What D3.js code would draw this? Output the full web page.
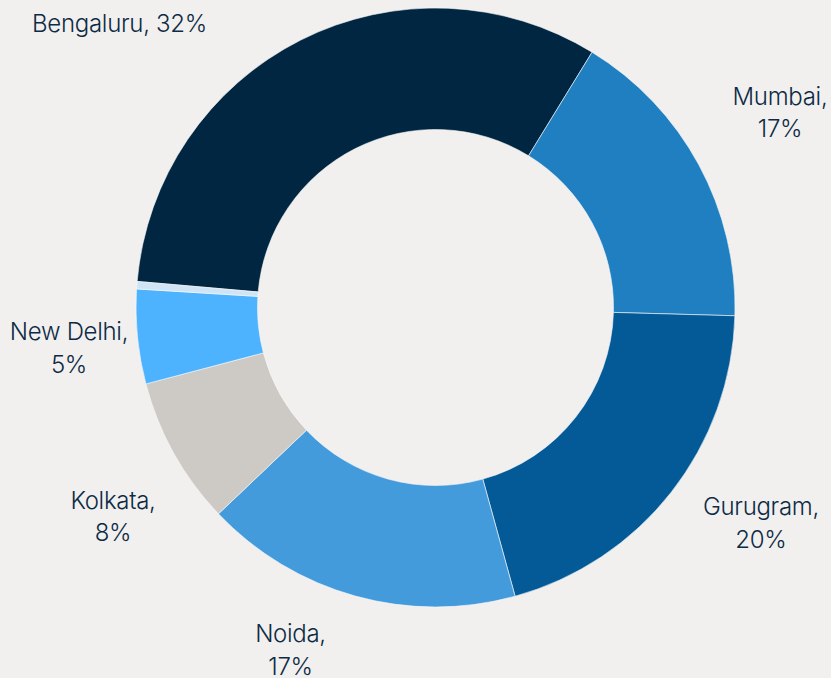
<!DOCTYPE html>
<html><head><meta charset="utf-8">
<script src="https://cdn.jsdelivr.net/npm/d3@7"></script>
<style>
html,body{margin:0;padding:0;background:#f2f0ef;}
svg{display:block;}
text{font-family:Inter,"Noto Sans",sans-serif;fill:#0d2b45;font-weight:300;}
</style></head><body>
<svg id="c" width="831" height="678"></svg>
<script>
const cities = ["Bengaluru","Mumbai","Gurugram","Noida","Kolkata","New Delhi","Other"];
const shares = [32.4,16.7,20.3,17.2,8.0,5.1,0.4];
const labels = ["Bengaluru, 32%","Mumbai,|17%","Gurugram,|20%","Noida,|17%","Kolkata,|8%","New Delhi,|5%",""];
const colors = ["#012641","#1f7fc0","#035a97","#449bdb","#cdcac6","#4db3fe","#cfe5f6"];

const W=831,H=678, cx=435.5, cy=307.5, R=299.5, r=178;
const svg=d3.select("#c");
const g=svg.append("g").attr("transform",`translate(${cx},${cy})`);
const data=cities.map((c,i)=>({city:c,value:shares[i],label:labels[i],color:colors[i]}));
const pie=d3.pie().value(d=>d.value).sort(null)
  .startAngle(-85*Math.PI/180).endAngle(275*Math.PI/180);
const arc=d3.arc().innerRadius(r).outerRadius(R);
const arcs=pie(data);
g.selectAll("path").data(arcs).join("path")
  .attr("d",arc).attr("fill",d=>d.data.color)
  .attr("stroke","#f6f8fa").attr("stroke-width",0.6);

// label placement (polar: angle in degrees clockwise from top, radius)
const labelPolar = {
  Bengaluru:[311.95,424.9], Mumbai:[60.55,395.6], Gurugram:[123.57,390.6],
  Noida:[202.92,372.4], Kolkata:[237.0,384.6], "New Delhi":[263.62,368.8]
};
const lineH = {Mumbai:32, Gurugram:33, Noida:33, Kolkata:32, "New Delhi":33};
arcs.forEach(a=>{
  if(!a.data.label) return;
  const lines=a.data.label.split("|");
  const [deg,rr]=labelPolar[a.data.city];
  const ang=deg*Math.PI/180;
  const x=rr*Math.sin(ang), y=-rr*Math.cos(ang);
  const lh=lineH[a.data.city]||33;
  const t=g.append("text").attr("text-anchor","middle").attr("font-size",24)
    .attr("letter-spacing","-0.3");
  lines.forEach((l,i)=>{
    t.append("tspan").attr("x",x).attr("y",y+(i-(lines.length-1)/2)*lh).attr("dy","0.35em").text(l);
  });
});
</script></body></html>
